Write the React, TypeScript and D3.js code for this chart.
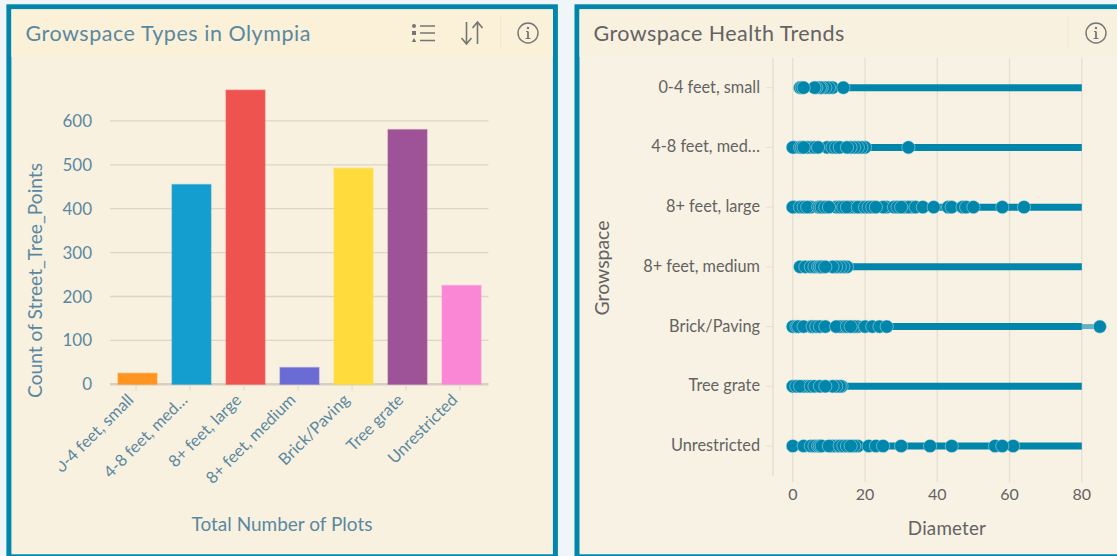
import React from "react";
import * as d3 from "d3";

const WIDTH = 1117;
const HEIGHT = 556;

// Tree counts per growspace type
const growspaces = ["0-4 feet, small", "4-8 feet, medium", "8+ feet, large", "8+ feet, medium", "Brick/Paving", "Tree grate", "Unrestricted"];
const plotCounts = [25, 455, 670, 38, 492, 580, 225];
const barColors = ["#ff9420", "#149ecf", "#ef5350", "#6b6bd6", "#ffdc3c", "#9e5399", "#fa87d6"];
const countTicks = [0, 100, 200, 300, 400, 500, 600];

// Trunk diameters observed in each growspace, listed in drawing order (later dots sit on top)
const diameterSmall = [2, 2.5, 11, 10, 9, 8, 7.5, 6.5, 6, 14, 3];
const diameterMedium48 = [0.5, 0, 2, 2.5, 5, 4, 6, 9.5, 11, 12, 13, 20, 19, 18, 17, 16, 7, 3, 15, 32];
const diameterLarge = [0.5, 0, 2, 3, 5, 4, 7, 7.5, 8, 9, 12, 13, 10, 14, 17, 16, 15, 19, 18, 20, 21, 22, 26, 25, 23, 28, 29, 31, 33, 32, 30, 34, 36, 39, 43, 44, 47, 48, 50, 58, 64];
const diameterMedium8 = [2, 3.5, 5, 6, 7, 7.5, 8, 15, 14, 13, 12, 11, 9];
const diameterBrick = [0, 1, 1.5, 5, 3, 5.5, 6.5, 7.5, 9, 14, 13, 12, 15, 18, 17, 16, 20, 22, 24, 26, 85];
const diameterGrate = [0, 1, 4, 3, 2, 5, 6, 7.5, 13.5, 13, 12, 11, 9];
const diameterOpen = [0, 3, 5, 6, 7, 7.5, 8, 12, 11, 10, 13, 14, 15, 18, 17, 16, 21, 23, 25, 30, 38, 44, 56, 61, 58];
const diameterRows = [diameterSmall, diameterMedium48, diameterLarge, diameterMedium8, diameterBrick, diameterGrate, diameterOpen];
const rowLabels = ["0-4 feet, small", "4-8 feet, med…", "8+ feet, large", "8+ feet, medium", "Brick/Paving", "Tree grate", "Unrestricted"];
const diameterTicks = [0, 20, 40, 60, 80];

const TEAL = "#0085ab";
const FONT = "Lato, 'Open Sans', sans-serif";
const LEFT_TEXT = "#5a88a0";
const RIGHT_TEXT = "#636363";
const ICON = "#757575";

const yCount = d3.scaleLinear().domain([0, 600]).range([384.3, 120.9]);
const xPlot = d3.scaleBand<string>().domain(growspaces).range([110.5, 488.5]).paddingInner(0.28).paddingOuter(0.14);
const xDiameter = d3.scaleLinear().domain([0, 80]).range([792.8, 1081.8]);
const yRow = d3.scalePoint<string>().domain(rowLabels).range([87.7, 446]);

const InfoIcon = ({ x, y }: { x: number; y: number }) => (
  <g transform={`translate(${x},${y})`} stroke={ICON} fill="none">
    <circle r={10} strokeWidth={1.4} />
    <line x1={0} x2={0} y1={-1.5} y2={5} strokeWidth={1.8} />
    <circle cy={-5} r={1.2} fill={ICON} stroke="none" />
    <path d="M-2,-1.5H0M-2.5,5.5H2.5" strokeWidth={1} />
  </g>
);

const ListIcon = ({ x, y }: { x: number; y: number }) => (
  <g transform={`translate(${x},${y})`} fill={ICON} stroke="none">
    <circle cx={-10} cy={-7} r={2} />
    <rect x={-12} y={-2} width={4} height={4} />
    <path d="M-10,5L-7.8,9H-12.2Z" />
    <path d="M-4,-7H11M-4,0H11M-4,7.5H11" stroke={ICON} strokeWidth={1.6} fill="none" />
  </g>
);

const SortIcon = ({ x, y }: { x: number; y: number }) => (
  <g transform={`translate(${x},${y})`} fill="none" stroke={ICON} strokeWidth={1.6}>
    <path d="M-6,-11V11M-11,5L-6,11L-1,5" />
    <path d="M5,11V-11M0,-5L5,-11L10,-5" />
  </g>
);

export default function App() {
  return (
    <svg
      width={WIDTH}
      height={HEIGHT}
      viewBox={`0 0 ${WIDTH} ${HEIGHT}`}
      style={{ position: "absolute", left: 0, top: 0, display: "block", fontFamily: FONT }}
    >
      <defs>
        <clipPath id="plot-labels">
          <rect x={59.5} y={385} width={440} height={120} />
        </clipPath>
      </defs>
      <rect width={WIDTH} height={HEIGHT} fill="#f0f5f9" />

      {/* Bar chart panel */}
      <rect x={8.9} y={6.8} width={546.5} height={550} fill="#f9f1e0" stroke={TEAL} strokeWidth={5} />
      <rect x={11.4} y={9.3} width={541.5} height={47.7} fill="#fbf0d8" />
      <text x={25.5} y={40.5} fontSize={21.5} fill="#5a88a0" letterSpacing={0.53}>Growspace Types in Olympia</text>
      <ListIcon x={424} y={33} />
      <SortIcon x={472.5} y={33} />
      <line x1={500.5} x2={500.5} y1={16} y2={49} stroke="#efe8d8" strokeWidth={1.2} />
      <InfoIcon x={528} y={33} />

      {countTicks.map((t) => (
        <g key={t}>
          <line x1={110} x2={488.5} y1={yCount(t)} y2={yCount(t)} stroke={t === 0 ? "#d6d0c4" : "#dcd6c6"} strokeWidth={t === 0 ? 2.5 : 1.3} />
          <text x={92} y={yCount(t) + 6} textAnchor="end" fontSize={17} fill={LEFT_TEXT}>{t}</text>
        </g>
      ))}
      {growspaces.map((g, i) => {
        const x0 = xPlot(g)!;
        const w = xPlot.bandwidth();
        const cx = x0 + w / 2;
        return (
          <g key={g}>
            <rect
              x={x0}
              y={yCount(plotCounts[i])}
              width={w}
              height={yCount(0) - yCount(plotCounts[i])}
              fill={barColors[i]}
              stroke={barColors[i]}
              strokeOpacity={0.45}
              strokeWidth={1.5}
            />
            <line x1={cx - 1.5} x2={cx - 1.5} y1={385} y2={391} stroke="#e0dacb" strokeWidth={1} />
          </g>
        );
      })}
      <g clipPath="url(#plot-labels)">
        {growspaces.map((g, i) => {
          const cx = xPlot(g)! + xPlot.bandwidth() / 2;
          const shown = g === "4-8 feet, medium" ? "4-8 feet, med…" : g;
          return (
            <text
              key={g}
              transform={`translate(${cx - 3},${401}) rotate(-45)`}
              textAnchor="end"
              fontSize={16.5}
              fill={LEFT_TEXT}
            >
              {shown}
            </text>
          );
        })}
      </g>
      <text transform="translate(42,280.5) rotate(-90)" textAnchor="middle" fontSize={19.2} fill={LEFT_TEXT}>Count of Street_Tree_Points</text>
      <text x={282} y={531} textAnchor="middle" fontSize={19} fill={LEFT_TEXT}>Total Number of Plots</text>

      {/* Dot strip panel */}
      <rect x={577} y={6.8} width={545} height={550} fill="#f8f2e4" stroke={TEAL} strokeWidth={5} />
      <rect x={579.5} y={9.3} width={537.5} height={47.7} fill="#f8f1df" />
      <text x={593.5} y={40.5} fontSize={21.5} fill="#636363" letterSpacing={0.45}>Growspace Health Trends</text>
      <line x1={1068} x2={1068} y1={16} y2={49} stroke="#efe9da" strokeWidth={1.2} />
      <InfoIcon x={1096} y={33} />

      {diameterTicks.map((t) => (
        <g key={t}>
          <line x1={xDiameter(t)} x2={xDiameter(t)} y1={58} y2={482} stroke="#e4dfd1" strokeWidth={1.3} />
          <text x={xDiameter(t)} y={500} textAnchor="middle" fontSize={16} fill={RIGHT_TEXT}>{t}</text>
        </g>
      ))}
      <line x1={773} x2={773} y1={58} y2={476} stroke="#e4dfd1" strokeWidth={1.5} />
      {rowLabels.map((label, i) => {
        const cy = yRow(label)!;
        const row = diameterRows[i];
        const lo = d3.min(row)!;
        const hi = d3.max(row)!;
        return (
          <g key={label}>
            <line x1={766} x2={773} y1={cy} y2={cy} stroke="#e4dfd1" strokeWidth={1} />
            <text x={760} y={cy + 5} textAnchor="end" fontSize={16.3} fill={RIGHT_TEXT}>{label}</text>
            <line x1={xDiameter(lo)} x2={xDiameter(80)} y1={cy} y2={cy} stroke={TEAL} strokeWidth={7} />
            {hi > 80 && (
              <line x1={xDiameter(80)} x2={xDiameter(hi)} y1={cy} y2={cy} stroke={TEAL} strokeOpacity={0.6} strokeWidth={5} />
            )}
            {row.map((d, k) => (
              <circle
                key={k}
                cx={xDiameter(d)}
                cy={cy}
                r={6.6}
                fill={TEAL}
                stroke="#bfdfe6"
                strokeOpacity={0.5}
                strokeWidth={1}
              />
            ))}
          </g>
        );
      })}
      <text transform="translate(609,268) rotate(-90)" textAnchor="middle" fontSize={19.4} fill={RIGHT_TEXT}>Growspace</text>
      <text x={947} y={535} textAnchor="middle" fontSize={18.8} fill={RIGHT_TEXT} letterSpacing={0.2}>Diameter</text>
    </svg>
  );
}
